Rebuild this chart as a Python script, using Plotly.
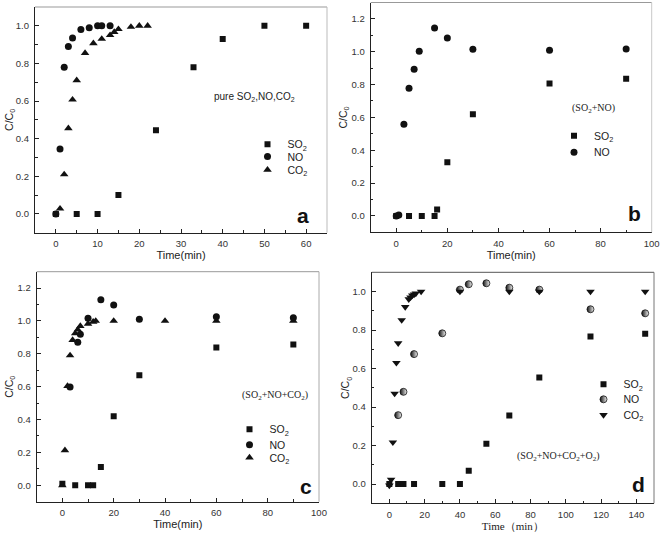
import plotly.graph_objects as go

W, H = 661, 534

# ---------------- data ----------------
# panel a: pure SO2, NO, CO2
a_so2_t = [0, 5, 10, 15, 24, 33, 40, 50, 60]
a_so2_c = [0.0, 0.0, 0.0, 0.10, 0.445, 0.78, 0.93, 1.0, 1.0]
a_no_t = [0, 1, 2, 3, 4, 6, 8, 10, 11, 13]
a_no_c = [0.0, 0.345, 0.78, 0.89, 0.935, 0.98, 0.99, 1.0, 1.0, 1.0]
a_co2_t = [1, 2, 3, 4, 5, 7, 9, 11, 13, 14, 15, 18, 20, 22]
a_co2_c = [0.028, 0.21, 0.455, 0.607, 0.71, 0.855, 0.907, 0.93, 0.95, 0.967, 0.982, 0.994, 1.0, 1.0]

# panel b: SO2 + NO
b_so2_t = [0, 5, 10, 15, 16, 20, 30, 60, 90]
b_so2_c = [0.0, 0.0, 0.0, 0.0, 0.039, 0.327, 0.619, 0.806, 0.835]
b_no_t = [0, 1, 3, 5, 7, 9, 15, 20, 30, 60, 90]
b_no_c = [0.0, 0.005, 0.558, 0.778, 0.894, 1.003, 1.145, 1.084, 1.015, 1.009, 1.017]

# panel c: SO2 + NO + CO2
c_so2_t = [0, 5, 10, 12, 15, 20, 30, 60, 90]
c_so2_c = [0.01, 0.0, 0.0, 0.0, 0.111, 0.42, 0.669, 0.839, 0.857]
c_no_t = [3, 6, 7, 10, 15, 20, 30, 60, 90]
c_no_c = [0.598, 0.87, 0.92, 1.016, 1.129, 1.097, 1.01, 1.026, 1.02]
c_co2_t = [0, 1, 2, 3, 4, 5, 6, 7, 10, 12, 13, 20, 40, 60, 90]
c_co2_c = [0.0, 0.213, 0.604, 0.79, 0.884, 0.924, 0.947, 0.969, 0.983, 0.995, 1.0, 1.0, 1.0, 1.0, 1.0]

# panel d: SO2 + NO + CO2 + O2
d_so2_t = [0, 5, 8, 14, 30, 40, 45, 55, 68, 85, 114, 145]
d_so2_c = [0.0, 0.0, 0.0, 0.0, 0.0, 0.0, 0.069, 0.21, 0.356, 0.554, 0.766, 0.781]
d_no_t = [5, 8, 14, 30, 40, 45, 55, 68, 85, 114, 145]
d_no_c = [0.358, 0.479, 0.675, 0.783, 1.01, 1.038, 1.043, 1.02, 1.01, 0.908, 0.887]
d_co2_t = [0, 1, 2, 3, 4, 5, 7, 9, 11, 12, 13, 14, 15, 18, 40, 68, 85, 114, 145]
d_co2_c = [-0.007, 0.023, 0.217, 0.47, 0.63, 0.732, 0.852, 0.92, 0.96, 0.97, 0.98, 0.985, 0.99, 1.0, 1.0, 1.0, 1.0, 1.0, 1.0]

SO2 = "SO<sub>2</sub>"
NO = "NO"
CO2 = "CO<sub>2</sub>"


def px(x):
    return x / W


def py(y):
    return 1 - y / H


SANS = "Liberation Sans, Arial, sans-serif"
SERIF = "Liberation Serif, Times New Roman, serif"
INK = "#111111"
TXT = "#333333"

fig = go.Figure()
legends = {}
leg_common = dict(bgcolor="rgba(0,0,0,0)", font=dict(family=SANS, size=10.5, color="#222"),
                  itemwidth=30, tracegroupgap=0, xanchor="left", yanchor="top",
                  borderwidth=0)


def new_legend(mx, my):
    key = "legend" if not legends else f"legend{len(legends) + 1}"
    legends[key] = dict(x=px(mx - 20), y=py(my - 14.5), **leg_common)
    return key


def add(x, y, name, symbol, size, xa, ya, lpos, **extra):
    marker = dict(symbol=symbol, size=size, color=INK, line=dict(width=0))
    marker.update(extra)
    fig.add_trace(go.Scatter(x=x, y=y, mode="markers", name=name, marker=marker,
                             xaxis=xa, yaxis=ya, legend=new_legend(*lpos)))


add(a_so2_t, a_so2_c, SO2, "square", 6, "x", "y", (267.5, 144.2))
add(a_no_t, a_no_c, NO, "circle", 7, "x", "y", (267.5, 156.5))
add(a_co2_t, a_co2_c, CO2, "triangle-up", 7.5, "x", "y", (267.5, 169.8))

add(b_so2_t, b_so2_c, SO2, "square", 6, "x2", "y2", (574, 135.7))
add(b_no_t, b_no_c, NO, "circle", 7, "x2", "y2", (574, 152.3))

add(c_so2_t, c_so2_c, SO2, "square", 6, "x3", "y3", (249.5, 429.3))
add(c_no_t, c_no_c, NO, "circle", 7, "x3", "y3", (249.5, 444.7))
add(c_co2_t, c_co2_c, CO2, "triangle-up", 7.5, "x3", "y3", (249.5, 457.5))

add(d_so2_t, d_so2_c, SO2, "square", 6, "x4", "y4", (603.5, 384.3))
add(d_no_t, d_no_c, NO, "circle", 7, "x4", "y4", (603.5, 399.3),
    gradient=dict(type="horizontal", color="#f4f4f4"), line=dict(width=0.8, color=INK))
add(d_co2_t, d_co2_c, CO2, "triangle-down", 7.5, "x4", "y4", (603.5, 415))


def xaxis(dom, rng, dtick, minor, title, anchor, tfont=SANS):
    return dict(domain=[px(dom[0]), px(dom[1])], range=rng, dtick=dtick, tick0=0,
                anchor=anchor, showline=True, linecolor="#222", linewidth=1.2,
                ticks="inside", ticklen=4, tickwidth=1, tickcolor="#222",
                minor=dict(dtick=minor, ticks="inside", ticklen=2.5, tickcolor="#222", showgrid=False),
                showgrid=False, zeroline=False, automargin=False,
                tickfont=dict(family=SANS, size=9.5, color=TXT),
                ticklabelstandoff=2,
                title=dict(text=title, font=dict(family=tfont, size=11, color="#222"), standoff=3))


def yaxis(dom, rng, anchor):
    return dict(domain=[py(dom[1]), py(dom[0])], range=rng, dtick=0.2, tick0=0,
                anchor=anchor, showline=True, linecolor="#222", linewidth=1.2,
                ticks="inside", ticklen=4, tickwidth=1, tickcolor="#222",
                minor=dict(dtick=0.1, ticks="inside", ticklen=2.5, tickcolor="#222", showgrid=False),
                showgrid=False, zeroline=False, automargin=False, tickformat=".1f",
                tickfont=dict(family=SANS, size=9.5, color=TXT),
                ticklabelstandoff=3,
                title=dict(text="C/C<sub>0</sub>", font=dict(family=SANS, size=10.5, color="#222"), standoff=0))


fig.update_layout(
    width=W, height=H,
    margin=dict(l=0, r=0, t=0, b=0),
    paper_bgcolor="white", plot_bgcolor="white",
    xaxis=xaxis((35, 327), [-5, 65], 10, 5, "Time(min)", "y"),
    yaxis=yaxis((7, 232.7), [-0.1, 1.1], "x"),
    xaxis2=xaxis((370.7, 651.7), [-10, 100], 20, 10, "Time(min)", "y2"),
    yaxis2=yaxis((2.5, 232.3), [-0.1, 1.3], "x2"),
    xaxis3=xaxis((36.7, 319), [-10, 100], 20, 10, "Time(min)", "y3"),
    yaxis3=yaxis((271.7, 501.7), [-0.1, 1.3], "x3"),
    xaxis4=xaxis((371.7, 654), [-10, 150], 20, 10, "Time\uff08min\uff09", "y4", tfont=SERIF),
    yaxis4=yaxis((272.3, 503.3), [-0.1, 1.1], "x4"),
    showlegend=True,
    **legends,
)

# lighter top / right frame lines
frames = [("x", "y", "#999999", "#bbbbbb"), ("x2", "y2", "#999999", "#c8c8c8"),
          ("x3", "y3", "#999999", "#aaaaaa"), ("x4", "y4", "#555555", "#777777")]
for xa, ya, ctop, cright in frames:
    fig.add_shape(type="line", xref=f"{xa} domain", yref=f"{ya} domain",
                  x0=0, x1=1, y0=1, y1=1, line=dict(color=ctop, width=1))
    fig.add_shape(type="line", xref=f"{xa} domain", yref=f"{ya} domain",
                  x0=1, x1=1, y0=0, y1=1, line=dict(color=cright, width=1))

# panel letters
for letter, cx, cy in [("a", 303, 215), ("b", 634, 213), ("c", 306, 486), ("d", 638, 484)]:
    fig.add_annotation(text=f"<b>{letter}</b>", x=px(cx), y=py(cy), xref="paper", yref="paper",
                       showarrow=False, xanchor="center", yanchor="middle",
                       font=dict(family=SANS, size=21, color="#111"))

# condition labels
fig.add_annotation(text="pure SO<sub>2</sub>,NO,CO<sub>2</sub>", x=px(212), y=py(97),
                   xref="paper", yref="paper", showarrow=False, xanchor="left", yanchor="middle",
                   font=dict(family=SANS, size=10, color="#222"))
fig.add_annotation(text="(SO<sub>2</sub>+NO)", x=px(570), y=py(109),
                   xref="paper", yref="paper", showarrow=False, xanchor="left", yanchor="middle",
                   font=dict(family=SERIF, size=10, color="#222"))
fig.add_annotation(text="(SO<sub>2</sub>+NO+CO<sub>2</sub>)", x=px(240), y=py(395),
                   xref="paper", yref="paper", showarrow=False, xanchor="left", yanchor="middle",
                   font=dict(family=SERIF, size=10, color="#222"))
fig.add_annotation(text="(SO<sub>2</sub>+NO+CO<sub>2</sub>+O<sub>2</sub>)", x=px(515), y=py(456),
                   xref="paper", yref="paper", showarrow=False, xanchor="left", yanchor="middle",
                   font=dict(family=SERIF, size=10, color="#222"))

fig.write_html("out.html", post_script="document.body.style.margin='0';",
               config={"displayModeBar": False})
